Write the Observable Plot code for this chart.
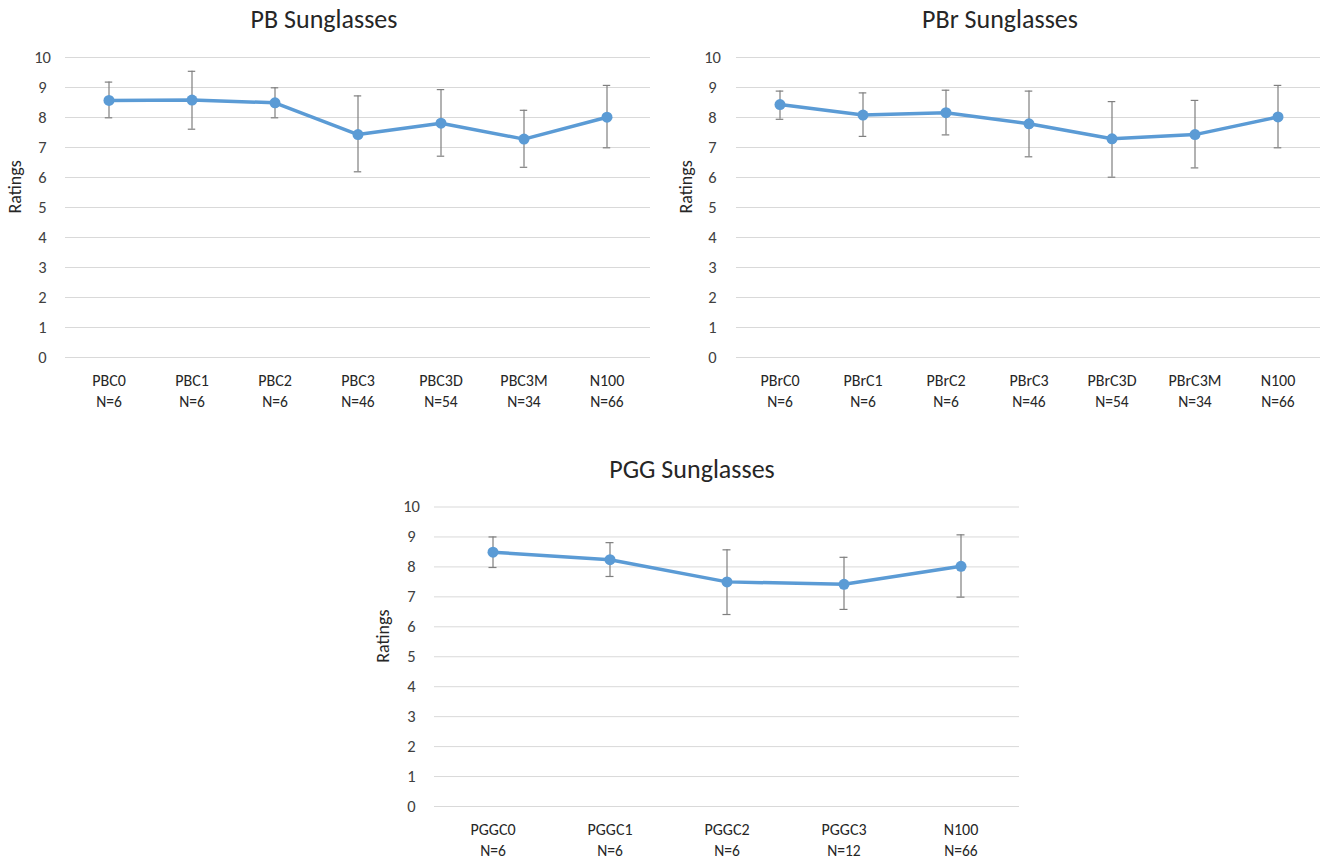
<!DOCTYPE html>
<html>
<head>
<meta charset="utf-8">
<script src="https://cdn.jsdelivr.net/npm/d3@7"></script>
<script src="https://cdn.jsdelivr.net/npm/@observablehq/plot@0.6"></script>
<style>
  html, body { margin: 0; padding: 0; background: #fff; }
  #root { position: relative; width: 1333px; height: 861px; overflow: hidden; font-family: Carlito, Calibri, "Open Sans", sans-serif; }
  .title { position: absolute; font-size: 26px; color: #262626; white-space: nowrap; transform: translate(-50%, -50%); }
  .panel { position: absolute; }
</style>
</head>
<body>
<div id="root"></div>
<script>
// ---- Data ----
const yTicks = [0, 1, 2, 3, 4, 5, 6, 7, 8, 9, 10];

const pbCategories = ["PBC0", "PBC1", "PBC2", "PBC3", "PBC3D", "PBC3M", "N100"];
const pbN = ["N=6", "N=6", "N=6", "N=46", "N=54", "N=34", "N=66"];
const pbMeans = [8.57, 8.58, 8.49, 7.43, 7.81, 7.28, 8.01];
const pbLow = [7.99, 7.61, 7.99, 6.19, 6.71, 6.34, 6.99];
const pbHigh = [9.18, 9.54, 8.99, 8.72, 8.93, 8.24, 9.07];

const pbrCategories = ["PBrC0", "PBrC1", "PBrC2", "PBrC3", "PBrC3D", "PBrC3M", "N100"];
const pbrN = ["N=6", "N=6", "N=6", "N=46", "N=54", "N=34", "N=66"];
const pbrMeans = [8.43, 8.08, 8.16, 7.79, 7.29, 7.43, 8.02];
const pbrLow = [7.94, 7.37, 7.42, 6.69, 6.01, 6.32, 6.99];
const pbrHigh = [8.88, 8.82, 8.91, 8.88, 8.53, 8.57, 9.07];

const pggCategories = ["PGGC0", "PGGC1", "PGGC2", "PGGC3", "N100"];
const pggN = ["N=6", "N=6", "N=6", "N=12", "N=66"];
const pggMeans = [8.49, 8.24, 7.50, 7.42, 8.02];
const pggLow = [7.98, 7.68, 6.41, 6.58, 6.99];
const pggHigh = [9.00, 8.81, 8.57, 8.32, 9.07];

const titles = ["PB Sunglasses", "PBr Sunglasses", "PGG Sunglasses"];
const yLabel = "Ratings";

// ---- Drawing ----
const root = document.getElementById("root");

function addTitle(text, cx, cy) {
  const d = document.createElement("div");
  d.className = "title";
  d.textContent = text;
  d.style.left = cx + "px";
  d.style.top = cy + "px";
  root.appendChild(d);
}

function panel(cfg) {
  const rows = cfg.cats.map((c, i) => ({cat: c, n: cfg.n[i], mean: cfg.means[i], lo: cfg.low[i], hi: cfg.high[i]}));
  const plotW = cfg.width - cfg.ml - cfg.mr;
  const bw = plotW / cfg.cats.length;
  const capInset = (bw - 8) / 2;
  const font = 'Carlito, Calibri, "Open Sans", sans-serif';
  const chart = Plot.plot({
    width: cfg.width,
    height: cfg.height,
    marginLeft: cfg.ml,
    marginRight: cfg.mr,
    marginTop: cfg.mt,
    marginBottom: cfg.mb,
    style: {fontFamily: font, background: "transparent"},
    x: {domain: cfg.cats, padding: 0, axis: null},
    y: {domain: [0, 10], axis: null},
    marks: [
      Plot.ruleY(yTicks, {stroke: "#d9d9d9", strokeWidth: 1}),
      Plot.text(yTicks, {y: d => d, text: d => String(d), frameAnchor: "left", dx: cfg.tickDx, textAnchor: "middle", fontSize: 16.5, fill: "#404040"}),
      Plot.text([yLabel], {y: 5, text: d => d, frameAnchor: "left", dx: cfg.labelDx, dy: 6, rotate: -90, fontSize: 18, fill: "#262626"}),
      Plot.text(rows, {x: "cat", y: 0, text: "cat", dy: 23, fontSize: 16, fill: "#262626"}),
      Plot.text(rows, {x: "cat", y: 0, text: "n", dy: 45, fontSize: 15.5, fill: "#262626"}),
      Plot.ruleX(rows, {x: "cat", y1: "lo", y2: "hi", stroke: "#7f7f7f", strokeWidth: 1.2}),
      Plot.tickY(rows, {x: "cat", y: "lo", stroke: "#7f7f7f", strokeWidth: 1.2, insetLeft: capInset, insetRight: capInset}),
      Plot.tickY(rows, {x: "cat", y: "hi", stroke: "#7f7f7f", strokeWidth: 1.2, insetLeft: capInset, insetRight: capInset}),
      Plot.line(rows, {x: "cat", y: "mean", stroke: "#5b9bd5", strokeWidth: 3.5, strokeLinejoin: "round"}),
      Plot.dot(rows, {x: "cat", y: "mean", r: 5.5, fill: "#5b9bd5", stroke: "none"})
    ]
  });
  chart.classList.add("panel");
  chart.style.left = cfg.left + "px";
  chart.style.top = cfg.top + "px";
  root.appendChild(chart);
}

panel({cats: pbCategories, n: pbN, means: pbMeans, low: pbLow, high: pbHigh,
  left: 0, top: 40, width: 660, height: 400, ml: 65, mr: 10, mt: 17, mb: 83, tickDx: -23, labelDx: -50});
panel({cats: pbrCategories, n: pbrN, means: pbrMeans, low: pbrLow, high: pbrHigh,
  left: 660, top: 40, width: 670, height: 400, ml: 76, mr: 10, mt: 17, mb: 83, tickDx: -24, labelDx: -50});
panel({cats: pggCategories, n: pggN, means: pggMeans, low: pggLow, high: pggHigh,
  left: 360, top: 490, width: 669, height: 371, ml: 74, mr: 10, mt: 16.5, mb: 55, tickDx: -23, labelDx: -51});

addTitle(titles[0], 324, 19);
addTitle(titles[1], 1000, 19);
addTitle(titles[2], 692, 469);
</script>
</body>
</html>
